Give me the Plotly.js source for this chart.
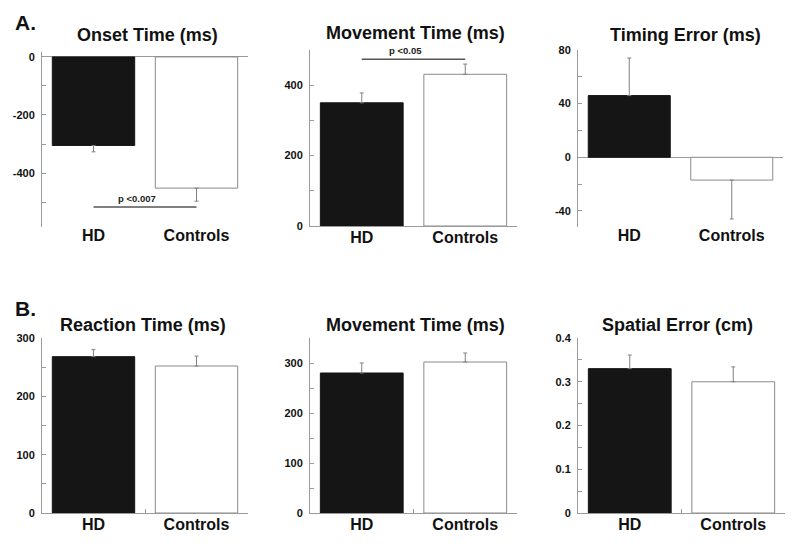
<!DOCTYPE html>
<html>
<head>
<meta charset="utf-8">
<script src="https://cdn.plot.ly/plotly-3.0.1.min.js"></script>
<style>html,body{margin:0;padding:0;background:#fff}#chart{width:800px;height:550px}</style>
</head>
<body>
<div id="chart"></div>
<script>
// ---- data ----
const categories = ['HD', 'Controls'];
const panelTitles = ['Onset Time (ms)', 'Movement Time (ms)', 'Timing Error (ms)',
                     'Reaction Time (ms)', 'Movement Time (ms)', 'Spatial Error (cm)'];
const sectionLabels = ['A.', 'B.'];

const onsetTime = [-305, -452];
const onsetErr = [22, 45];
const moveTimeA = [350, 431];
const moveTimeAErr = [28, 29];
const timingError = [46, -17];
const timingErrorErr = [28, 29];
const reactionTime = [268, 252];
const reactionErr = [12, 17];
const moveTimeB = [280, 302];
const moveTimeBErr = [20, 18];
const spatialError = [0.33, 0.30];
const spatialErrorErr = [0.031, 0.034];

// significance brackets
const sigLabels = ['p <0.007', 'p <0.05'];
const sigLevels = [-517, 474];

// y tick values/labels (blank = unlabeled tick)
const yTicks1 = [0, -100, -200, -300, -400, -500];
const yLabels1 = ['0', '', '-200', '', '-400', ''];
const yTicks2 = [0, 100, 200, 300, 400, 500];
const yLabels2 = ['0', '', '200', '', '400', ''];
const yTicks3 = [80, 60, 40, 20, 0, -20, -40];
const yLabels3 = ['80', '', '40', '', '0', '', '-40'];
const yTicks4 = [0, 50, 100, 150, 200, 250, 300];
const yLabels4 = ['0', '', '100', '', '200', '', '300'];
const yTicks5 = [0, 50, 100, 150, 200, 250, 300, 350];
const yLabels5 = ['0', '', '100', '', '200', '', '300', ''];
const yTicks6 = [0, 0.05, 0.1, 0.15, 0.2, 0.25, 0.3, 0.35, 0.4];
const yLabels6 = ['0', '', '0.1', '', '0.2', '', '0.3', '', '0.4'];

// ---- layout geometry (pixels) ----
const W = 800, H = 550;
const FONT = 'Liberation Sans, Arial, Helvetica, sans-serif';
const AX = '#9a9a9a';

const panels = [
  {vals: onsetTime, err: onsetErr, x: [42, 248], y: [52, 227], range: [-586, 17], tv: yTicks1, tt: yLabels1, zero: true, mid: false, title: [147, 35]},
  {vals: moveTimeA, err: moveTimeAErr, x: [310, 517], y: [50, 226], range: [0, 500], tv: yTicks2, tt: yLabels2, zero: false, mid: false, title: [415, 33]},
  {vals: timingError, err: timingErrorErr, x: [578, 783], y: [50, 227], range: [-52, 80], tv: yTicks3, tt: yLabels3, zero: true, mid: false, title: [685, 35]},
  {vals: reactionTime, err: reactionErr, x: [42, 248], y: [338, 513], range: [0, 300], tv: yTicks4, tt: yLabels4, zero: false, mid: true, title: [143, 325]},
  {vals: moveTimeB, err: moveTimeBErr, x: [310, 517], y: [338, 513], range: [0, 350], tv: yTicks5, tt: yLabels5, zero: false, mid: true, title: [415, 325]},
  {vals: spatialError, err: spatialErrorErr, x: [578, 785], y: [338, 513], range: [0, 0.4], tv: yTicks6, tt: yLabels6, zero: false, mid: true, title: [677, 325]}
];

const xIdx = categories.map((c, i) => i);
const traces = [];
const layout = {
  width: W, height: H,
  margin: {l: 0, r: 0, t: 0, b: 0},
  paper_bgcolor: '#fff', plot_bgcolor: 'rgba(0,0,0,0)',
  showlegend: false,
  font: {family: FONT, color: '#111'},
  annotations: []
};

panels.forEach((p, k) => {
  const n = k + 1;
  const xa = n === 1 ? 'x' : 'x' + n;
  const ya = n === 1 ? 'y' : 'y' + n;
  const plus = p.vals.map((v, i) => v >= 0 ? p.err[i] : 0);
  const minus = p.vals.map((v, i) => v < 0 ? p.err[i] : 0);
  traces.push({
    type: 'bar', x: xIdx, y: p.vals, width: 0.8,
    xaxis: xa, yaxis: ya,
    marker: {color: ['#151515', '#ffffff'], line: {color: ['#151515', '#8a8a8a'], width: 1}},
    error_y: {type: 'data', symmetric: false, array: plus, arrayminus: minus,
              color: '#808080', thickness: 1, width: 2},
    hoverinfo: 'none'
  });
  layout['xaxis' + (n === 1 ? '' : n)] = {
    domain: [p.x[0] / W, p.x[1] / W],
    anchor: ya,
    range: [-0.5, 1.5],
    tickmode: 'array', tickvals: xIdx, ticktext: categories,
    ticks: '',
    ticklabelstandoff: -3,
    tickfont: {family: FONT, size: 16, weight: 'bold', color: '#111'},
    showline: !p.zero, linecolor: AX, linewidth: 1,
    showgrid: false, zeroline: false,
    minor: p.mid ? {tickvals: [0.5], ticks: 'inside', ticklen: 4, tickcolor: AX, tickwidth: 1, showgrid: false} : undefined,
    fixedrange: true
  };
  layout['yaxis' + (n === 1 ? '' : n)] = {
    domain: [1 - p.y[1] / H, 1 - p.y[0] / H],
    anchor: xa,
    range: p.range,
    tickmode: 'array', tickvals: p.tv, ticktext: p.tt,
    ticks: 'inside', ticklen: 4, tickcolor: AX, tickwidth: 1,
    tickfont: {family: FONT, size: 11, weight: 'bold', color: '#111'},
    ticklabelstandoff: 4,
    showline: true, linecolor: AX, linewidth: 1,
    showgrid: false,
    zeroline: p.zero, zerolinecolor: AX, zerolinewidth: 1,
    fixedrange: true
  };
  layout.annotations.push({
    text: panelTitles[k], xref: 'paper', yref: 'paper',
    x: p.title[0] / W, y: 1 - p.title[1] / H, xanchor: 'center', yanchor: 'middle',
    showarrow: false, font: {family: FONT, size: 18, weight: 'bold', color: '#111'}
  });
});

// significance brackets on panels 1 and 2
[0, 1].forEach((k, j) => {
  const n = k + 1;
  const xa = n === 1 ? 'x' : 'x' + n;
  const ya = n === 1 ? 'y' : 'y' + n;
  traces.push({
    type: 'scatter', mode: 'lines', x: xIdx, y: xIdx.map(() => sigLevels[j]),
    xaxis: xa, yaxis: ya, line: {color: '#555', width: 1.5}, hoverinfo: 'none', cliponaxis: false
  });
  layout.annotations.push({
    text: sigLabels[j], xref: xa, yref: ya, x: 0.42, y: sigLevels[j],
    xanchor: 'center', yanchor: 'bottom', yshift: 1, showarrow: false,
    font: {family: FONT, size: 9.5, weight: 'bold', color: '#222'}
  });
});

// section labels
[[25, 22], [25, 308]].forEach((pos, i) => {
  layout.annotations.push({
    text: sectionLabels[i], xref: 'paper', yref: 'paper',
    x: pos[0] / W, y: 1 - pos[1] / H, xanchor: 'center', yanchor: 'middle',
    showarrow: false, font: {family: FONT, size: 21, weight: 'bold', color: '#111'}
  });
});

Plotly.newPlot('chart', traces, layout, {staticPlot: true, displayModeBar: false});
</script>
</body>
</html>
